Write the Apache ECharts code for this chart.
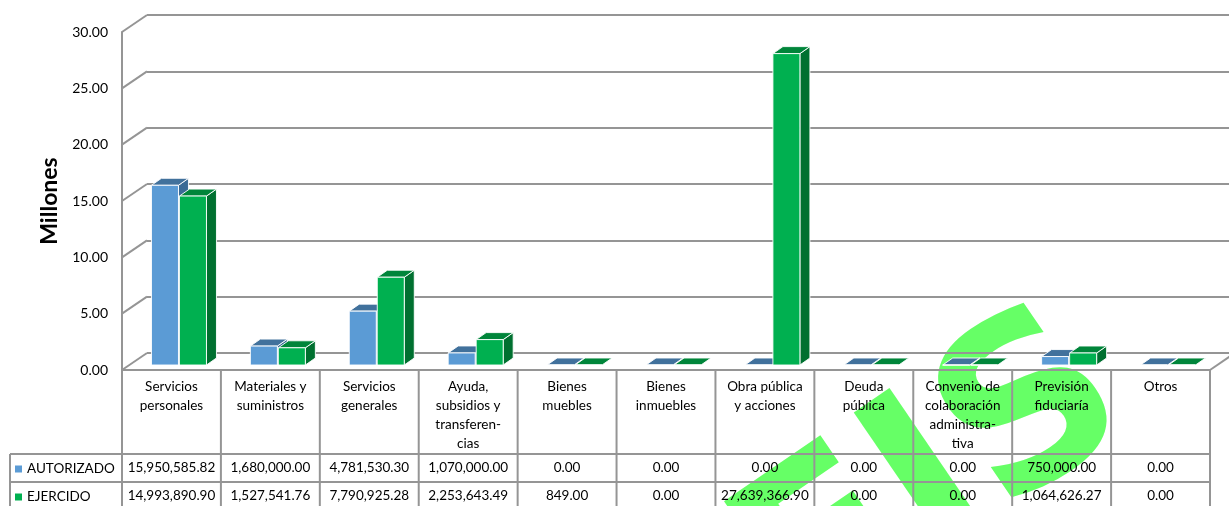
<!DOCTYPE html>
<html lang="es">
<head>
<meta charset="UTF-8">
<title>Autorizado vs Ejercido</title>
<script src="https://cdn.jsdelivr.net/npm/echarts@6/dist/echarts.min.js"></script>
<style>
    html, body { width: 100%; height: 100%; margin: 0; padding: 0; background: #fff; }
    #main { width: 1229px; height: 506px; }
</style>
</head>
<body>
<div id="main"></div>
<script>
// datos
var categories = ['Servicios\npersonales', 'Materiales y\nsuministros', 'Servicios\ngenerales',
    'Ayuda,\nsubsidios y\ntransferen-\ncias', 'Bienes\nmuebles', 'Bienes\ninmuebles',
    'Obra pública\ny acciones', 'Deuda\npública', 'Convenio de\ncolaboración\nadministra-\ntiva',
    'Previsión\nfiduciaría', 'Otros'];
var autorizado = [15950585.82, 1680000.00, 4781530.30, 1070000.00, 0, 0, 0, 0, 0, 750000.00, 0];
var ejercido = [14993890.90, 1527541.76, 7790925.28, 2253643.49, 849.00, 0, 27639366.90, 0, 0, 1064626.27, 0];
var yTicks = [0, 5, 10, 15, 20, 25, 30];
var seriesNames = ['AUTORIZADO', 'EJERCIDO'];

var FONT = 'Lato';
var LINE = '#959595';
var WALL_DX = 25, WALL_DY = -17;   // profundidad de las paredes
var BAR_DX = 10, BAR_DY = -7;      // profundidad de cada barra

function fmt(v) {
    return v.toLocaleString('en-US', { minimumFractionDigits: 2, maximumFractionDigits: 2 });
}

// barra 3D: cara frontal, lateral y superior
function bar3d(offset, front, top, side) {
    return function (params, api) {
        var i = api.value(0);
        var pTop = api.coord([i, api.value(1)]);
        var pBase = api.coord([i, 0]);
        var w = 27;
        var x0 = pTop[0] + offset, x1 = x0 + w;
        var y0 = pTop[1] - 5, y1 = pBase[1] - 5;
        var edge = { stroke: 'rgba(255,255,255,0.9)', lineWidth: 1 };
        return {
            type: 'group',
            children: [
                { type: 'polygon', shape: { points: [[x1, y0], [x1 + BAR_DX, y0 + BAR_DY], [x1 + BAR_DX, y1 + BAR_DY], [x1, y1]] },
                  style: Object.assign({ fill: side }, edge) },
                { type: 'polygon', shape: { points: [[x0, y0], [x0 + BAR_DX, y0 + BAR_DY], [x1 + BAR_DX, y0 + BAR_DY], [x1, y0]] },
                  style: Object.assign({ fill: top }, edge) },
                { type: 'rect', shape: { x: x0, y: y0, width: w, height: y1 - y0 },
                  style: Object.assign({ fill: front }, edge) }
            ]
        };
    };
}

var chart = echarts.init(document.getElementById('main'));

var option = {
    backgroundColor: '#fff',
    animation: false,
    textStyle: { fontFamily: FONT },
    graphic: {
        z: -10,
        elements: [{
            type: 'text',
            x: 545, y: 615,
            rotation: 0.6,
            z: -10,
            style: { text: 'DEIS', font: 'bold 230px "DejaVu Sans"', fill: '#66FF66' }
        }]
    },
    legend: {
        orient: 'vertical',
        left: 15, top: 461, height: 80,
        padding: 0,
        itemWidth: 7, itemHeight: 7, itemGap: 12,
        icon: 'rect',
        selectedMode: false,
        textStyle: { fontFamily: FONT, fontSize: 13.5, color: '#000', lineHeight: 16 },
        data: seriesNames
    },
    grid: [
        { left: 122, right: 19, top: 32, bottom: 136 },
        { left: 122 + WALL_DX, right: 0, top: 32 + WALL_DY, bottom: 136 - WALL_DY }
    ],
    xAxis: [
        { type: 'category', gridIndex: 0, data: categories, z: 2,
          axisLine: { lineStyle: { color: LINE, width: 2 } },
          axisTick: { show: false }, axisLabel: { show: false } },
        { type: 'category', gridIndex: 1, data: categories, show: false }
    ],
    yAxis: [
        { type: 'value', gridIndex: 0, min: 0, max: 30, interval: 5, z: 2,
          name: 'Millones', nameLocation: 'middle', nameGap: 58,
          nameTextStyle: { fontFamily: FONT, fontSize: 23, fontWeight: 'bold', color: '#000' },
          axisLine: { show: true, lineStyle: { color: LINE, width: 2 } },
          axisTick: { show: false }, splitLine: { show: false },
          axisLabel: { margin: 14, fontSize: 14, color: '#000', fontFamily: FONT,
                       formatter: function (v) { return v.toFixed(2); } } },
        { type: 'value', gridIndex: 1, min: 0, max: 30, interval: 5, z: 2,
          axisLine: { show: false }, axisTick: { show: false }, axisLabel: { show: false },
          splitLine: { show: true, lineStyle: { color: LINE, width: 2 } } }
    ],
    series: [
        {
            // diagonales de la pared lateral y del piso
            type: 'custom', xAxisIndex: 0, yAxisIndex: 0, silent: true, z: 2,
            data: yTicks.map(function (v) { return [0, v]; }),
            renderItem: function (params, api) {
                var p = api.coord([0, api.value(1)]);
                var cs = params.coordSys;
                var st = { stroke: LINE, lineWidth: 2 };
                var kids = [{ type: 'line', shape: { x1: cs.x, y1: p[1], x2: cs.x + WALL_DX, y2: p[1] + WALL_DY }, style: st }];
                if (api.value(1) === 0) {
                    var xr = cs.x + cs.width;
                    kids.push({ type: 'line', shape: { x1: xr, y1: p[1], x2: xr + WALL_DX, y2: p[1] + WALL_DY }, style: st });
                }
                return { type: 'group', children: kids };
            }
        },
        {
            name: seriesNames[0], type: 'custom', xAxisIndex: 0, yAxisIndex: 0, z: 3,
            itemStyle: { color: '#5B9BD5' },
            data: autorizado.map(function (v, i) { return [i, v / 1e6]; }),
            renderItem: bar3d(-20, '#5B9BD5', '#41719C', '#3A6A96')
        },
        {
            name: seriesNames[1], type: 'custom', xAxisIndex: 0, yAxisIndex: 0, z: 4,
            itemStyle: { color: '#00B050' },
            data: ejercido.map(function (v, i) { return [i, v / 1e6]; }),
            renderItem: bar3d(8, '#00B050', '#00853A', '#007030')
        },
        {
            // tabla de datos
            type: 'custom', xAxisIndex: 0, yAxisIndex: 0, silent: true, z: 5,
            data: categories.map(function (c, i) { return [i, 0]; }),
            renderItem: function (params, api) {
                var i = api.value(0);
                var c = api.coord([i, 0]);
                var bw = api.size([1, 0])[0];
                var xl = c[0] - bw / 2, xr = c[0] + bw / 2, y = c[1];
                var st = { stroke: LINE, lineWidth: 2 };
                var ts = { fontFamily: FONT, fontSize: 13.5, fill: '#000', align: 'center' };
                var kids = [
                    { type: 'line', shape: { x1: xr, y1: y, x2: xr, y2: y + 160 }, style: st },
                    { type: 'line', shape: { x1: xl, y1: y + 84, x2: xr, y2: y + 84 }, style: st },
                    { type: 'line', shape: { x1: xl, y1: y + 112, x2: xr, y2: y + 112 }, style: st },
                    { type: 'text', x: c[0], y: y + 7.5,
                      style: Object.assign({ text: categories[i], verticalAlign: 'top', lineHeight: 19 }, ts) },
                    { type: 'text', x: c[0], y: y + 98,
                      style: Object.assign({ text: fmt(autorizado[i]), verticalAlign: 'middle' }, ts) },
                    { type: 'text', x: c[0], y: y + 126,
                      style: Object.assign({ text: fmt(ejercido[i]), verticalAlign: 'middle' }, ts) }
                ];
                if (i === 0) {
                    kids.push({ type: 'line', shape: { x1: xl, y1: y, x2: xl, y2: y + 160 }, style: st });
                    kids.push({ type: 'line', shape: { x1: 10, y1: y + 84, x2: xl, y2: y + 84 }, style: st });
                    kids.push({ type: 'line', shape: { x1: 10, y1: y + 112, x2: xl, y2: y + 112 }, style: st });
                    kids.push({ type: 'line', shape: { x1: 10, y1: y + 84, x2: 10, y2: y + 160 }, style: st });
                }
                return { type: 'group', children: kids };
            }
        }
    ]
};

chart.setOption(option);
</script>
</body>
</html>
